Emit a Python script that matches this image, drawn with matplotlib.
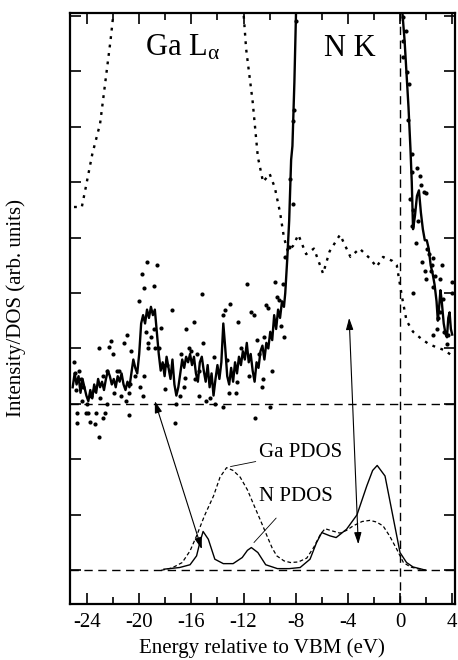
import matplotlib
matplotlib.use("Agg")
import matplotlib.pyplot as plt

# Ga L-alpha emission spectrum (smoothed line), energy in eV vs arb. intensity
ga_l_x = [-25.1, -24.95, -24.8, -24.65, -24.5, -24.35, -24.2, -24.05, -23.9,
          -23.75, -23.6, -23.45, -23.3, -23.15, -23.0, -22.85, -22.7, -22.55,
          -22.4, -22.25, -22.1, -21.95, -21.8, -21.65, -21.5, -21.35, -21.2,
          -21.05, -20.9, -20.75, -20.6, -20.45, -20.3, -20.15, -20.0, -19.85,
          -19.7, -19.55, -19.4, -19.25, -19.1, -18.95, -18.8, -18.65, -18.5,
          -18.35, -18.2, -18.05, -17.9, -17.75, -17.6, -17.45, -17.3, -17.15,
          -17.0, -16.85, -16.7, -16.55, -16.4, -16.25, -16.1, -15.95, -15.8,
          -15.65, -15.5, -15.35, -15.2, -15.05, -14.9, -14.75, -14.6, -14.45,
          -14.3, -14.15, -14.0, -13.85, -13.7, -13.55, -13.4, -13.25, -13.1,
          -12.95, -12.8, -12.65, -12.5, -12.35, -12.2, -12.05, -11.9, -11.75,
          -11.6, -11.45, -11.3, -11.15, -11.0, -10.85, -10.7, -10.55, -10.4,
          -10.25, -10.1, -9.95, -9.8, -9.65, -9.5, -9.35, -9.2, -9.05, -8.9,
          -8.8, -8.65, -8.5, -8.35, -8.25, -8.1, -7.95]
ga_l_y = [3.30, 3.55, 3.35, 3.50, 3.20, 3.45, 3.30, 3.15, 3.05,
          3.25, 3.10, 3.35, 3.20, 3.45, 3.30, 3.40, 3.25, 3.45,
          3.60, 3.50, 3.35, 3.45, 3.30, 3.50, 3.40, 3.55, 3.35,
          3.25, 3.40, 3.30, 3.55, 3.80, 3.65, 3.55, 3.90, 4.45,
          4.60, 4.45, 4.70, 4.55, 4.75, 4.60, 4.70, 4.30, 3.90,
          3.60, 3.75, 3.50, 3.85, 3.65, 3.45, 3.80, 3.35, 3.15,
          3.30, 3.55, 3.80, 3.65, 3.85, 3.75, 3.90, 3.70, 3.85,
          3.55, 3.40, 3.75, 3.85, 3.60, 3.40, 3.70, 3.30, 3.55,
          3.15, 3.45, 3.70, 3.45, 3.75, 4.45, 4.00, 3.50, 3.35,
          3.65, 3.40, 3.75, 3.55, 3.85, 3.70, 3.95, 3.80, 4.10,
          3.75, 3.90, 3.60, 3.40, 3.75, 3.65, 3.95, 4.05, 3.80,
          4.10, 4.00, 4.30, 4.15, 4.60, 4.35, 4.70, 4.55, 4.85, 4.75,
          5.00, 5.60, 6.30, 7.40, 7.65, 8.80, 10.3]

# Ga L-alpha raw data points
ga_l_pts_x = [-25.0, -24.9, -24.85, -24.8, -24.75, -24.6, -24.5, -24.4, -24.3,
              -24.1, -24.0, -23.9, -23.8, -23.7, -23.5, -23.4, -23.3, -23.1,
              -23.1, -23.0, -22.8, -22.75, -22.6, -22.5, -22.45, -22.3, -22.2,
              -22.0, -21.9, -21.7, -21.55, -21.4, -21.15, -21.0, -20.9, -20.8,
              -20.75, -20.7, -20.6, -20.3, -20.0, -19.9, -19.8, -19.7, -19.6,
              -19.6, -19.5, -19.4, -19.35, -19.3, -19.1, -18.9, -18.9, -18.8,
              -18.65, -18.5, -18.3, -18.2, -18.0, -17.9, -17.5, -17.25, -17.2,
              -16.9, -16.8, -16.6, -16.5, -16.4, -16.2, -16.0, -15.8, -15.7,
              -15.6, -15.4, -15.4, -15.2, -15.1, -14.9, -14.6, -14.3, -14.2,
              -13.6, -13.6, -13.4, -13.3, -13.1, -13.0, -12.6, -12.5, -12.4,
              -12.2, -11.75, -11.6, -11.4, -11.2, -11.1, -11.0, -10.8, -10.6,
              -10.5, -10.4, -10.3, -10.1, -10.0, -9.8, -9.6, -9.45, -9.3, -9.1,
              -8.95, -8.9, -8.8, -8.5, -8.4, -8.2, -8.2, -8.15, -8.0]
ga_l_pts_y = [3.76, 3.55, 3.25, 2.84, 2.66, 3.60, 3.45, 3.05, 3.30,
              2.83, 3.00, 2.83, 2.67, 3.15, 3.25, 2.63, 2.84, 2.40,
              4.00, 3.10, 3.50, 2.75, 2.84, 3.60, 3.00, 4.02, 4.14,
              3.90, 3.20, 3.60, 3.60, 3.15, 4.10, 3.05, 4.24, 2.80,
              3.20, 3.35, 3.96, 3.50, 4.86, 3.30, 5.35, 3.15, 5.09,
              3.50, 4.30, 5.56, 4.10, 4.00, 4.20, 5.13, 4.35, 4.00,
              5.50, 4.00, 4.37, 3.70, 3.27, 3.70, 4.69, 2.66, 3.00,
              3.15, 3.90, 3.30, 3.47, 4.35, 4.00, 3.95, 4.48, 3.45,
              3.90, 3.15, 3.60, 4.98, 4.10, 3.05, 3.10, 3.85, 3.00,
              4.60, 2.95, 4.70, 3.80, 3.20, 4.80, 3.20, 3.40, 4.48,
              4.00, 5.17, 3.50, 4.66, 4.60, 2.75, 4.15, 3.90, 3.30,
              3.45, 4.20, 4.78, 4.73, 2.95, 3.60, 5.20, 4.93, 4.87, 4.40,
              5.17, 4.20, 5.65, 5.83, 7.05, 6.60, 8.10, 8.30, 9.90]

# N K emission spectrum (smoothed line)
n_k_x = [0.10, 0.35, 0.50, 0.65, 0.80, 0.90, 1.00, 1.15, 1.30, 1.45, 1.60,
         1.75, 1.90, 2.05, 2.20, 2.35, 2.50, 2.65, 2.80, 2.90, 3.00, 3.10,
         3.20, 3.35, 3.50, 3.60, 3.70, 3.80, 3.90, 4.00]
n_k_y = [10.3, 9.55, 8.95, 8.35, 7.60, 7.00, 6.15, 6.40, 6.75, 6.85, 6.45,
         6.15, 5.95, 5.95, 5.80, 5.50, 5.35, 5.15, 4.85, 4.50, 4.75, 5.05,
         4.85, 4.45, 4.25, 4.20, 4.55, 4.65, 4.35, 4.25]

# N K raw data points
n_k_pts_x = [0.26, 0.45, 0.20, 0.20, 0.50, 0.72, 0.64, 0.90, 0.90, 1.30, 1.55,
             1.60, 0.77, 1.85, 2.00, 1.00, 0.90, 1.40, 1.20, 2.05, 2.20, 2.45,
             1.70, 1.90, 2.00, 2.40, 2.70, 3.10, 1.00, 2.50, 3.30, 3.95, 2.90,
             3.10, 3.35, 3.70, 2.50, 2.80, 3.60, 2.55, 3.20, 3.96]
n_k_pts_y = [9.97, 9.73, 9.55, 9.25, 8.98, 8.77, 8.11, 7.50, 7.18, 7.25, 7.10,
             6.95, 6.70, 6.82, 6.80, 6.50, 6.20, 6.30, 5.90, 5.80, 5.70, 5.50,
             5.55, 5.40, 5.25, 5.40, 5.30, 5.25, 5.00, 5.10, 4.90, 5.00, 4.55,
             4.65, 4.30, 4.25, 4.25, 4.35, 4.08, 5.63, 5.50, 5.20]

# Second spectrum drawn as a dotted line (goes off scale between -22 and -12)
dot_x = [-25.0, -24.4, -24.1, -23.6, -23.0, -22.6, -22.2, -21.9, -21.0, -17.0,
         -12.6, -12.0, -11.8, -11.3, -10.9, -10.5, -10.0, -9.6, -9.2, -8.9,
         -8.6, -8.2, -7.8, -7.2, -6.6, -5.9, -5.4, -4.6, -3.8, -3.1, -2.3,
         -1.8, -1.3, -0.6, -0.25, 0.15, 0.5, 1.0, 1.6, 2.2, 2.8, 3.4, 4.1]
dot_y = [6.55, 6.55, 6.90, 7.50, 8.05, 8.80, 9.55, 10.2, 11.5, 12.5,
         11.0, 10.05, 9.40, 8.45, 7.45, 7.00, 7.15, 6.90, 6.45, 6.00,
         5.75, 5.85, 6.05, 5.70, 5.80, 5.35, 5.75, 6.05, 5.65, 5.80, 5.62,
         5.47, 5.65, 5.58, 5.50, 4.93, 4.50, 4.30, 4.18, 4.08, 4.02, 3.97, 3.85]

# Calculated partial densities of states
ga_pdos_x = [-18.3, -17.5, -16.7, -16.1, -15.6, -15.0, -14.3, -13.8, -13.3,
             -12.8, -12.26, -11.7, -11.25, -10.7, -10.2, -9.8, -9.45, -8.9,
             -8.4, -7.8, -7.15, -6.6, -6.1, -5.75, -5.2, -4.6, -4.1, -3.6,
             -2.9, -2.3, -1.8, -1.3, -0.8, -0.25, 0.26, 0.8, 1.3, 2.0]
ga_pdos_y = [0.0, 0.04, 0.14, 0.35, 0.62, 0.98, 1.34, 1.68, 1.85,
             1.80, 1.68, 1.45, 1.20, 0.90, 0.62, 0.40, 0.26, 0.17,
             0.14, 0.15, 0.22, 0.42, 0.65, 0.75, 0.71, 0.67, 0.72, 0.80,
             0.88, 0.90, 0.87, 0.80, 0.62, 0.38, 0.14, 0.06, 0.03, 0.0]

n_pdos_x = [-18.1, -16.9, -16.1, -15.6, -15.35, -15.1, -14.7, -14.2, -13.55,
            -12.8, -12.1, -11.7, -11.4, -10.9, -10.3, -9.4, -8.5, -7.66,
            -6.9, -6.4, -6.0, -5.36, -4.9, -4.1, -3.3, -2.55, -2.1, -1.75,
            -1.15, -0.5, 0.0, 0.5, 1.0, 1.5, 2.0]
n_pdos_y = [0.02, 0.05, 0.10, 0.26, 0.50, 0.70, 0.56, 0.20, 0.12,
            0.12, 0.23, 0.36, 0.41, 0.32, 0.10, 0.03, 0.03, 0.05,
            0.20, 0.50, 0.68, 0.62, 0.59, 0.74, 1.00, 1.52, 1.80, 1.89,
            1.70, 0.92, 0.32, 0.14, 0.06, 0.03, 0.0]

x_ticks = [-24, -20, -16, -12, -8, -4, 0, 4]


def draw_chart() -> None:
    """Draw the emission spectra and PDOS comparison and save to out.png."""
    plt.rcParams["font.family"] = ["Liberation Serif", "DejaVu Serif"]
    plt.rcParams["mathtext.fontset"] = "custom"
    plt.rcParams["mathtext.rm"] = "Liberation Serif"
    plt.rcParams["mathtext.it"] = "Liberation Serif"

    fig = plt.figure(figsize=(4.58, 6.60), dpi=100)
    ax = fig.add_axes([0.153, 0.0855, 0.840, 0.895])

    # reference lines
    ax.axhline(0, color="black", lw=1.0, ls=(0, (6, 4)))
    ax.axhline(3, color="black", lw=1.0, ls=(0, (6, 4)))
    ax.axvline(0, color="black", lw=1.0, ls=(0, (6, 4)))

    # measured spectra
    ax.plot(ga_l_x, ga_l_y, color="black", lw=1.7)
    ax.plot(ga_l_pts_x, ga_l_pts_y, "o", color="black", ms=3.0, mew=0)
    ax.plot(n_k_x, n_k_y, color="black", lw=1.7)
    ax.plot(n_k_pts_x, n_k_pts_y, "o", color="black", ms=3.0, mew=0)
    ax.plot(dot_x, dot_y, color="black", lw=1.7, ls=(0, (1.2, 2.4)))

    # partial DOS
    ax.plot(ga_pdos_x, ga_pdos_y, color="black", lw=0.9, ls=(0, (3, 2)))
    ax.plot(n_pdos_x, n_pdos_y, color="black", lw=1.0)

    # labels for the PDOS curves
    ax.annotate("Ga PDOS", xy=(-13.0, 1.87), xytext=(-10.85, 2.12),
                fontsize=15, va="center", ha="left",
                arrowprops=dict(arrowstyle="-", lw=0.6, color="black",
                                shrinkA=0, shrinkB=0))
    ax.annotate("N PDOS", xy=(-11.2, 0.5), xytext=(-8.0, 1.33),
                fontsize=15, va="center", ha="center",
                arrowprops=dict(arrowstyle="-", lw=0.6, color="black",
                                shrinkA=9, shrinkB=0))

    # double headed arrows linking features
    arrow = dict(arrowstyle="<|-|>,head_length=0.7,head_width=0.22",
                 lw=0.8, color="black", shrinkA=0, shrinkB=0)
    ax.annotate("", xy=(-15.2, 0.38), xytext=(-18.8, 3.05), arrowprops=arrow)
    ax.annotate("", xy=(-3.2, 0.47), xytext=(-3.9, 4.55), arrowprops=arrow)

    ax.text(-19.55, 9.28, r"Ga L$_{\alpha}$", fontsize=22, ha="left",
            va="baseline")
    ax.text(-5.8, 9.28, "N K", fontsize=22, ha="left", va="baseline")

    ax.set_xlim(-25.3, 4.2)
    ax.set_ylim(-0.6, 10.05)
    ax.set_xticks(x_ticks)
    ax.set_xticklabels([str(t) for t in x_ticks])
    ax.set_xticks(range(-22, 4, 4), minor=True)
    ax.set_yticks(range(0, 11))
    ax.set_yticklabels([])
    ax.tick_params(which="both", direction="in", top=True, right=True,
                   width=1.2, labelsize=15, pad=7)
    ax.tick_params(which="major", length=8)
    ax.tick_params(which="minor", length=5)
    for spine in ax.spines.values():
        spine.set_linewidth(1.6)

    ax.set_xlabel("Energy relative to VBM (eV)", fontsize=15, labelpad=4)
    ax.set_ylabel("Intensity/DOS (arb. units)", fontsize=15)
    ax.yaxis.set_label_coords(-0.115, 0.5)

    fig.savefig("out.png", dpi=100)


if __name__ == "__main__":
    draw_chart()
